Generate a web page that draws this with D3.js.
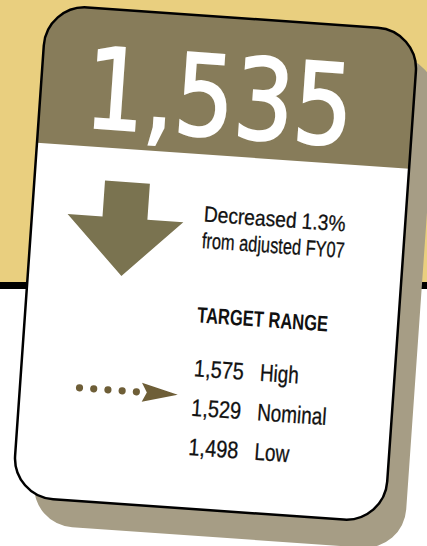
<!DOCTYPE html>
<html>
<head>
<meta charset="utf-8">
<script src="https://cdn.jsdelivr.net/npm/d3@7"></script>
<style>
  html, body { margin: 0; padding: 0; background: #fff; }
  svg { display: block; }
</style>
</head>
<body>
<div id="chart"></div>
<script>
// headline figure and change
const headlineValue = 1535;
const changeLines = ["Decreased 1.3%", "from adjusted FY07"];
const changeWidths = [142, 143];

// target range
const rangeTitle = "TARGET RANGE";
const rangeLabels = ["High", "Nominal", "Low"];
const rangeValues = [1575, 1529, 1498];

const width = 427, height = 546;

const colors = {
    yellow: "#e9cf7f",
    header: "#877c5a",
    arrow: "#7a7350",
    dots: "#6e5e37",
    shadow: "#a69d85"
};

const textFont = "'Liberation Sans', Arial, sans-serif";

// squeeze a text horizontally to fake a condensed face
function condense(sel, k) {
    sel.each(function () {
        let w = this.getComputedTextLength();
        d3.select(this)
            .attr("textLength", w * k)
            .attr("lengthAdjust", "spacingAndGlyphs");
    });
}

const svg = d3.select("#chart").append("svg")
    .attr("width", width)
    .attr("height", height);

// background bands
svg.append("rect").attr("width", width).attr("height", 282).attr("fill", colors.yellow);
svg.append("rect").attr("y", 282).attr("width", width).attr("height", 7).attr("fill", "#000");

// card geometry (local coords, centred)
const cardW = 373, cardH = 493, radius = 41, angle = 4;
const cx = 215.5, cy = 263.5;

// shadow
svg.append("rect")
    .attr("transform", `translate(${cx + 19}, ${cy + 28}) rotate(${angle})`)
    .attr("x", -cardW / 2).attr("y", -cardH / 2)
    .attr("width", cardW).attr("height", cardH)
    .attr("rx", radius).attr("ry", radius)
    .attr("fill", colors.shadow);

const card = svg.append("g")
    .attr("transform", `translate(${cx}, ${cy}) rotate(${angle})`);

card.append("clipPath").attr("id", "cardClip")
    .append("rect")
    .attr("x", -cardW / 2).attr("y", -cardH / 2)
    .attr("width", cardW).attr("height", cardH)
    .attr("rx", radius).attr("ry", radius);

const body = card.append("g").attr("clip-path", "url(#cardClip)");

body.append("rect")
    .attr("x", -cardW / 2).attr("y", -cardH / 2)
    .attr("width", cardW).attr("height", cardH)
    .attr("fill", "#fff");

// header band
const headerBottom = -108;
body.append("rect")
    .attr("x", -cardW / 2).attr("y", -cardH / 2)
    .attr("width", cardW).attr("height", headerBottom + cardH / 2)
    .attr("fill", colors.header);

body.append("text")
    .attr("x", -7.5).attr("y", -127)
    .attr("text-anchor", "middle")
    .attr("font-family", "'DejaVu Sans Condensed', 'DejaVu Sans', sans-serif")
    .attr("font-size", 112)
    .attr("fill", "#fff")
    .attr("stroke", "#fff")
    .attr("stroke-width", 2.2)
    .attr("textLength", 268)
    .attr("lengthAdjust", "spacingAndGlyphs")
    .text(d3.format(",")(headlineValue));

// big down arrow
const arrowPts = [[-116, -75], [-71, -75], [-71, -39], [-35, -39], [-93, 19], [-151, -39], [-116, -39]];
body.append("path")
    .attr("d", d3.line()(arrowPts) + "Z")
    .attr("fill", colors.arrow);

// change text
const changeY = d3.scalePoint().domain(changeLines).range([-41, -14.5]);
body.selectAll(".change")
    .data(changeLines)
    .enter().append("text")
    .attr("class", "change")
    .attr("x", -15)
    .attr("y", d => changeY(d))
    .attr("font-family", textFont)
    .attr("font-size", 22)
    .attr("fill", "#111")
    .attr("stroke", "#111")
    .attr("stroke-width", 0.3)
    .attr("textLength", (d, i) => changeWidths[i])
    .attr("lengthAdjust", "spacingAndGlyphs")
    .text(d => d);

body.append("text")
    .attr("x", -14.5).attr("y", 60)
    .attr("font-family", textFont)
    .attr("font-weight", "bold")
    .attr("font-size", 22)
    .attr("fill", "#111")
    .attr("textLength", 131)
    .attr("lengthAdjust", "spacingAndGlyphs")
    .text(rangeTitle);

// target range rows
const rowY = d3.scalePoint().domain(rangeLabels).range([114, 193]);
const rows = body.selectAll(".row")
    .data(rangeLabels)
    .enter().append("g")
    .attr("class", "row")
    .attr("transform", d => `translate(0, ${rowY(d)})`);

rows.append("text")
    .attr("x", -14)
    .attr("font-family", textFont)
    .attr("font-size", 24)
    .attr("fill", "#111")
    .attr("stroke", "#111")
    .attr("stroke-width", 0.3)
    .text((d, i) => d3.format(",")(rangeValues[i]))
    .call(condense, 0.83);

rows.append("text")
    .attr("x", 52)
    .attr("font-family", textFont)
    .attr("font-size", 24)
    .attr("fill", "#111")
    .attr("stroke", "#111")
    .attr("stroke-width", 0.3)
    .text(d => d)
    .call(condense, 0.79);

// dotted pointer at the nominal row
const nominalY = rowY("Nominal") - 20;
const dotX = d3.scaleLinear().domain([0, 4]).range([-127, -70]);
body.selectAll(".dot")
    .data(d3.range(5))
    .enter().append("circle")
    .attr("class", "dot")
    .attr("cx", d => dotX(d))
    .attr("cy", nominalY)
    .attr("r", 3.6)
    .attr("fill", colors.dots);

body.append("path")
    .attr("d", d3.line()([[-65, nominalY - 9.5], [-28.5, nominalY], [-64, nominalY + 9.5], [-59.5, nominalY]]) + "Z")
    .attr("fill", colors.dots);

// card outline
card.append("rect")
    .attr("x", -cardW / 2).attr("y", -cardH / 2)
    .attr("width", cardW).attr("height", cardH)
    .attr("rx", radius).attr("ry", radius)
    .attr("fill", "none")
    .attr("stroke", "#000")
    .attr("stroke-width", 2.5);
</script>
</body>
</html>
